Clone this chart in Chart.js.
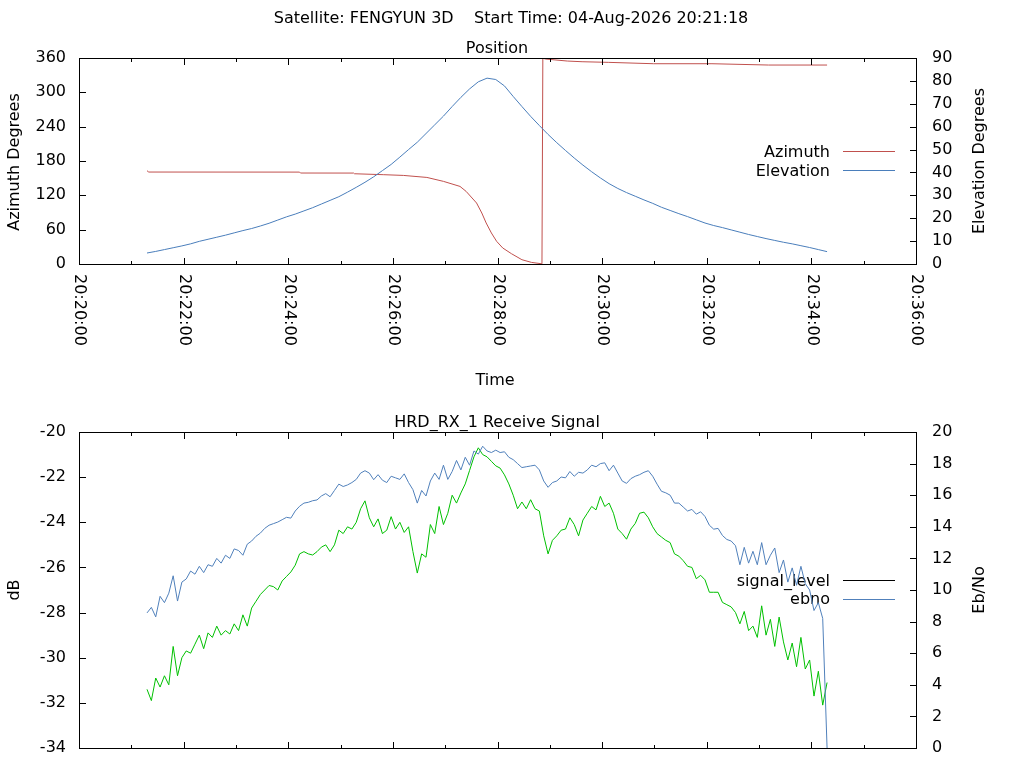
<!DOCTYPE html>
<html>
<head>
<meta charset="utf-8">
<title>FENGYUN 3D pass</title>
<script src="https://cdn.jsdelivr.net/npm/chart.js@4.4.1/dist/chart.umd.min.js"></script>
<style>
html,body{margin:0;padding:0;background:#ffffff;overflow:hidden;}
#wrap{position:relative;width:1024px;height:768px;overflow:hidden;background:#fff;}
#posChart{position:absolute;left:0;top:0;}
#sigChart{position:absolute;left:0;top:400px;}
</style>
</head>
<body>
<div id="wrap">
<canvas id="posChart" width="1024" height="400"></canvas>
<canvas id="sigChart" width="1024" height="400"></canvas>
</div>
<script>
// ---------------- DATA ----------------
const MAIN_TITLE = 'Satellite: FENGYUN 3D    Start Time: 04-Aug-2026 20:21:18';
const POS_TITLE = 'Position';
const SIG_TITLE = 'HRD_RX_1 Receive Signal';

const X_TICK_LABELS = ['20:20:00','20:22:00','20:24:00','20:26:00','20:28:00','20:30:00','20:32:00','20:34:00','20:36:00'];

// Elevation (degrees), one sample every 10 s starting 20:21:18
const EL_START = '20:21:18';
const EL_STEP_S = 10;
const EL_VALUES = [4.8,5.5,6.3,7.1,7.9,8.8,9.9,10.8,11.7,12.6,
  13.6,14.6,15.5,16.6,17.8,19.2,20.6,21.8,23.2,24.6,
  26.2,27.8,29.4,31.4,33.5,35.7,38.1,40.8,43.5,46.7,
  50.0,53.2,57.0,60.8,64.6,68.8,72.8,76.5,79.6,81.2,
  80.6,77.8,73.2,68.8,64.5,60.5,56.6,53.0,49.6,46.3,
  43.2,40.3,37.6,35.1,33.0,31.2,29.6,28.0,26.5,24.8,
  23.4,22.0,20.7,19.3,17.9,16.8,15.9,14.9,13.9,12.9,
  12.0,11.1,10.3,9.5,8.8,8.0,7.2,6.3,5.4];

// Azimuth (degrees) at the listed times
const AZ_TIMES = ['20:21:18','20:21:20','20:24:13','20:24:14','20:25:15','20:25:16','20:25:49','20:26:12',
  '20:26:39','20:26:58','20:27:17','20:27:24','20:27:36','20:27:42','20:27:47','20:27:53','20:27:59',
  '20:28:06','20:28:16','20:28:28','20:28:39','20:28:51','20:28:52','20:28:55','20:29:20','20:29:37',
  '20:30:07','20:30:59','20:32:06','20:33:11','20:34:18'];
const AZ_VALUES = [163.0,160.7,160.6,159.0,158.9,157.7,156.1,154.8,
  151.3,144.4,135.6,126.9,106.6,89.1,71.7,54.2,39.6,
  28.0,18.0,7.5,2.8,0.3,359.6,358.2,354.7,353.5,
  352.4,350.0,350.0,347.7,347.7];

// Receive signal, one sample every 5 s starting 20:21:18
const SIG_START = '20:21:18';
const SIG_STEP_S = 5;
const EBNO = [8.55,8.9,8.3,9.6,9.2,9.8,10.9,9.3,10.5,10.7,
  11.2,11.0,11.5,11.1,11.6,11.5,12.0,11.7,12.2,12.0,
  12.6,12.5,12.2,12.9,13.1,13.4,13.6,13.9,14.1,14.2,
  14.3,14.45,14.6,14.55,15.0,15.3,15.5,15.55,15.65,15.7,
  15.95,16.1,15.9,16.3,16.7,16.55,16.65,16.8,17.0,17.4,
  17.55,17.4,16.98,17.3,16.95,16.8,17.2,17.1,17.0,17.35,
  16.8,16.35,15.5,16.3,15.95,16.9,17.4,17.0,17.9,17.0,
  17.5,18.2,17.6,18.4,17.9,18.8,18.6,19.1,18.8,18.7,
  18.85,18.7,18.75,18.4,18.25,18.0,17.75,17.8,17.85,17.9,
  17.6,16.9,16.5,16.8,16.9,17.15,17.1,17.5,17.2,17.45,
  17.4,17.6,17.9,17.8,18.0,18.05,17.55,17.9,17.4,16.9,
  16.75,17.05,17.2,17.3,17.45,17.55,17.2,16.7,16.25,16.15,
  16.0,15.5,15.5,15.25,15.0,15.1,14.8,14.95,14.65,14.1,
  13.85,13.9,13.45,13.2,13.1,12.8,11.6,12.7,11.7,12.45,
  11.6,13.0,11.6,12.2,12.66,11.1,11.9,10.5,11.4,10.3,
  11.5,10.4,10.0,8.7,9.2,8.2,0];
const SIGNAL_DB = [-31.4,-31.9,-30.9,-31.3,-30.8,-31.2,-29.5,-30.8,-30.0,-29.7,
  -29.8,-29.4,-29.0,-29.6,-28.9,-29.1,-28.6,-29.0,-28.8,-28.95,
  -28.5,-28.8,-28.1,-28.6,-27.8,-27.5,-27.2,-27.0,-26.8,-26.85,
  -27.0,-26.6,-26.4,-26.2,-25.9,-25.4,-25.3,-25.4,-25.45,-25.3,
  -25.1,-25.0,-25.3,-25.0,-24.35,-24.5,-24.2,-24.3,-24.0,-23.4,
  -23.05,-23.8,-24.2,-23.85,-24.5,-24.35,-23.75,-24.3,-24.0,-24.45,
  -24.2,-25.3,-26.25,-25.4,-25.55,-24.1,-24.5,-23.3,-24.1,-23.6,
  -22.8,-23.15,-22.7,-22.3,-21.7,-21.1,-20.7,-21.0,-21.1,-21.3,
  -21.5,-21.6,-21.9,-22.3,-22.8,-23.4,-23.1,-23.4,-23.0,-23.4,
  -23.5,-24.6,-25.4,-24.8,-24.6,-24.35,-24.3,-23.8,-24.1,-24.6,
  -23.9,-23.6,-23.3,-23.45,-22.85,-23.3,-23.15,-23.6,-24.3,-24.5,
  -24.75,-24.3,-24.05,-23.6,-23.55,-23.8,-24.2,-24.5,-24.65,-24.8,
  -24.9,-25.4,-25.5,-25.7,-25.95,-26.0,-26.5,-26.35,-26.55,-27.1,
  -27.1,-27.1,-27.55,-27.65,-27.75,-28.0,-28.5,-27.95,-28.8,-28.6,
  -29.1,-27.7,-29.0,-28.3,-29.5,-28.2,-29.3,-30.1,-29.35,-30.4,
  -29.1,-30.5,-30.1,-31.7,-30.6,-32.1,-31.1];

// ---------------- HELPERS ----------------
const REF0 = 20*3600 + 20*60;
function hms(s){ const p = s.split(':').map(Number); return p[0]*3600 + p[1]*60 + p[2] - REF0; }
const X_MIN = hms(X_TICK_LABELS[0]);
const X_MAX = hms(X_TICK_LABELS[X_TICK_LABELS.length-1]);
const X_MAJOR = X_TICK_LABELS.map(hms);

const FONT_FAMILY = '"DejaVu Sans", "Noto Sans", sans-serif';
const FONT_SIZE = 16;
const FONT = FONT_SIZE + 'px ' + FONT_FAMILY;

const RED = '#c0504d';
const BLUE_EL = '#4a7ebb';
const GREEN = '#00c000';
const BLUE_EBNO = '#5080bb';

const elData = EL_VALUES.map((v,j)=>({x: hms(EL_START) + j*EL_STEP_S, y: v}));
const azData = AZ_VALUES.map((v,k)=>({x: hms(AZ_TIMES[k]), y: v}));
const ebnoData = EBNO.map((v,i)=>({x: hms(SIG_START) + i*SIG_STEP_S, y: v}));
const sigData = SIGNAL_DB.map((v,i)=>({x: hms(SIG_START) + i*SIG_STEP_S, y: v}));

// ---------------- GNUPLOT-STYLE DECORATION PLUGIN ----------------
const gnuplotDeco = {
  id: 'gnuplotDeco',
  beforeDatasetsDraw(chart, args, opts){
    const ctx = chart.ctx;
    ctx.save();
    ctx.font = FONT;
    ctx.fillStyle = '#000';
    ctx.textAlign = 'right';
    ctx.textBaseline = 'alphabetic';
    (opts.legend || []).forEach(item=>{
      const ds = chart.data.datasets[item.ds];
      ctx.fillText(ds.label, item.textX, item.baseline);
      ctx.strokeStyle = ds.legendColor || ds.borderColor;
      ctx.lineWidth = 1;
      ctx.beginPath();
      ctx.moveTo(item.x0, item.lineY + 0.5);
      ctx.lineTo(item.x1, item.lineY + 0.5);
      ctx.stroke();
    });
    ctx.restore();
  },
  afterDraw(chart, args, opts){
    const ctx = chart.ctx;
    const a = chart.chartArea;
    const xs = chart.scales.x;
    ctx.save();
    // border
    ctx.strokeStyle = '#000';
    ctx.lineWidth = 1;
    const L = Math.round(a.left), R = Math.round(a.right), T = Math.round(a.top), B = Math.round(a.bottom);
    ctx.strokeRect(L + 0.5, T + 0.5, R - L, B - T);
    // x ticks (mirrored, inward)
    ctx.beginPath();
    for (let k = 0; k < X_MAJOR.length; k++){
      const px = Math.round(xs.getPixelForValue(X_MAJOR[k])) + 0.5;
      ctx.moveTo(px, T); ctx.lineTo(px, T + 7);
      ctx.moveTo(px, B + 1); ctx.lineTo(px, B - 6);
      if (k < X_MAJOR.length - 1){
        const mv = (X_MAJOR[k] + X_MAJOR[k+1]) / 2;
        const mx = Math.round(xs.getPixelForValue(mv)) + 0.5;
        ctx.moveTo(mx, T); ctx.lineTo(mx, T + 4);
        ctx.moveTo(mx, B + 1); ctx.lineTo(mx, B - 3);
      }
    }
    // y ticks (left) and y2 ticks (right), inward
    ['y','y2'].forEach(id=>{
      const s = chart.scales[id];
      s.ticks.forEach(t=>{
        const py = Math.round(s.getPixelForValue(t.value)) + 0.5;
        if (id === 'y'){ ctx.moveTo(L, py); ctx.lineTo(L + 7, py); }
        else { ctx.moveTo(R + 1, py); ctx.lineTo(R - 6, py); }
      });
    });
    ctx.stroke();

    // texts
    ctx.fillStyle = '#000';
    ctx.font = FONT;
    ctx.textBaseline = 'alphabetic';
    ctx.textAlign = 'center';
    (opts.texts || []).forEach(t=>{
      if (t.rot){
        ctx.save();
        ctx.translate(t.x, t.y);
        ctx.rotate(t.rot);
        ctx.textAlign = 'center';
        ctx.fillText(t.text, 0, 0);
        ctx.restore();
      } else {
        ctx.textAlign = t.align || 'center';
        ctx.fillText(t.text, t.x, t.y);
      }
    });
    // rotated time labels under the x axis
    if (opts.xLabels){
      X_TICK_LABELS.forEach((lab,k)=>{
        const px = xs.getPixelForValue(X_MAJOR[k]);
        ctx.save();
        ctx.translate(px + 0.5, opts.xLabelTop);
        ctx.rotate(Math.PI / 2);
        ctx.textAlign = 'left';
        ctx.textBaseline = 'middle';
        ctx.fillText(lab, 0, 0);
        ctx.restore();
      });
    }
    ctx.restore();
  }
};

function yTicks(step, pad){
  return { stepSize: step, color: '#000', padding: pad, font: { family: FONT_FAMILY, size: FONT_SIZE } };
}
const noGrid = { display: false, drawTicks: false };
const noBorder = { display: false };

// ---------------- POSITION CHART ----------------
new Chart(document.getElementById('posChart'), {
  type: 'line',
  data: {
    datasets: [
      { label: 'Azimuth', data: azData, yAxisID: 'y', borderColor: RED, borderWidth: 1,
        pointRadius: 0, tension: 0, fill: false, order: 2 },
      { label: 'Elevation', data: elData, yAxisID: 'y2', borderColor: BLUE_EL, borderWidth: 1,
        pointRadius: 0, tension: 0, fill: false, order: 1 }
    ]
  },
  options: {
    responsive: false, animation: false, events: [],
    layout: { padding: { top: 58, left: 0, right: 0, bottom: 0 } },
    plugins: {
      legend: { display: false }, title: { display: false }, tooltip: { enabled: false },
      gnuplotDeco: {
        legend: [
          { ds: 0, textX: 830, baseline: 157, x0: 843, x1: 895, lineY: 151 },
          { ds: 1, textX: 830, baseline: 176, x0: 843, x1: 895, lineY: 170 }
        ],
        texts: [
          { text: MAIN_TITLE, x: 511, y: 23 },
          { text: POS_TITLE, x: 497, y: 53 },
          { text: 'Time', x: 495, y: 385 },
          { text: 'Azimuth Degrees', x: 19, y: 162, rot: -Math.PI/2 },
          { text: 'Elevation Degrees', x: 984, y: 161, rot: -Math.PI/2 }
        ],
        xLabels: true,
        xLabelTop: 274
      }
    },
    scales: {
      x: { type: 'linear', min: X_MIN, max: X_MAX, grid: noGrid, border: noBorder,
           ticks: { display: false }, afterFit: s => { s.height = 136; } },
      y: { type: 'linear', position: 'left', min: 0, max: 360, grid: noGrid, border: noBorder,
           ticks: yTicks(60, 13), afterFit: s => { s.width = 79; } },
      y2: { type: 'linear', position: 'right', min: 0, max: 90, grid: noGrid, border: noBorder,
           ticks: yTicks(10, 16), afterFit: s => { s.width = 108; } }
    }
  },
  plugins: [gnuplotDeco]
});

// ---------------- SIGNAL CHART ----------------
new Chart(document.getElementById('sigChart'), {
  type: 'line',
  data: {
    datasets: [
      { label: 'signal_level', data: sigData, yAxisID: 'y', borderColor: GREEN, legendColor: '#000000',
        borderWidth: 1, pointRadius: 0, tension: 0, fill: false, order: 2 },
      { label: 'ebno', data: ebnoData, yAxisID: 'y2', borderColor: BLUE_EBNO,
        borderWidth: 1, pointRadius: 0, tension: 0, fill: false, order: 1 }
    ]
  },
  options: {
    responsive: false, animation: false, events: [],
    layout: { padding: { top: 32, left: 0, right: 0, bottom: 0 } },
    plugins: {
      legend: { display: false }, title: { display: false }, tooltip: { enabled: false },
      gnuplotDeco: {
        legend: [
          { ds: 0, textX: 830, baseline: 186, x0: 843, x1: 895, lineY: 180 },
          { ds: 1, textX: 830, baseline: 204, x0: 843, x1: 895, lineY: 199 }
        ],
        texts: [
          { text: SIG_TITLE, x: 497, y: 27 },
          { text: 'dB', x: 19, y: 190, rot: -Math.PI/2 },
          { text: 'Eb/No', x: 984, y: 190, rot: -Math.PI/2 }
        ],
        xLabels: false
      }
    },
    scales: {
      x: { type: 'linear', min: X_MIN, max: X_MAX, grid: noGrid, border: noBorder,
           ticks: { display: false }, afterFit: s => { s.height = 52; } },
      y: { type: 'linear', position: 'left', min: -34, max: -20, grid: noGrid, border: noBorder,
           ticks: yTicks(2, 13), afterFit: s => { s.width = 79; } },
      y2: { type: 'linear', position: 'right', min: 0, max: 20, grid: noGrid, border: noBorder,
           ticks: yTicks(2, 16), afterFit: s => { s.width = 108; } }
    }
  },
  plugins: [gnuplotDeco]
});
</script>
</body>
</html>
